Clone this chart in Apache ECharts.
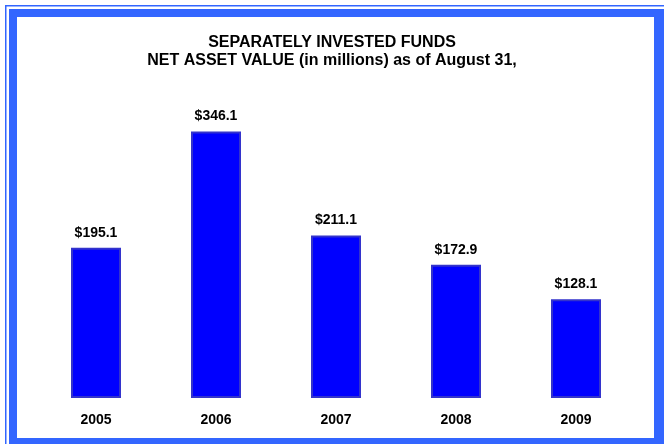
<!DOCTYPE html>
<html>
<head>
<meta charset="utf-8">
<script src="https://cdn.jsdelivr.net/npm/echarts@6/dist/echarts.min.js"></script>
<style>
html,body{margin:0;padding:0;background:#fff;}
#c{width:664px;height:444px;}
</style>
</head>
<body>
<div id="c"></div>
<script>
const categories = ['2005', '2006', '2007', '2008', '2009'];
const values = [195.1, 346.1, 211.1, 172.9, 128.1];
const titleLines = ['SEPARATELY INVESTED FUNDS', 'NET ASSET VALUE (in millions) as of August 31,'];

const frame = '#3366ff';
const chart = echarts.init(document.getElementById('c'), null, {renderer: 'canvas'});
chart.setOption({
  backgroundColor: '#ffffff',
  animation: false,
  title: {
    text: titleLines.join('\n'),
    left: 'center',
    top: 29,
    textStyle: {
      fontFamily: 'Liberation Sans, Arial, sans-serif',
      fontWeight: 'bold',
      fontSize: 16,
      lineHeight: 18,
      color: '#000'
    }
  },
  grid: {left: 36, right: 28, top: 90, bottom: 46},
  xAxis: {
    type: 'category',
    data: categories,
    axisLine: {show: false},
    axisTick: {show: false},
    axisLabel: {
      margin: 15,
      fontFamily: 'Liberation Sans, Arial, sans-serif',
      fontWeight: 'bold',
      fontSize: 14,
      color: '#000'
    }
  },
  yAxis: {
    type: 'value',
    min: 0,
    max: 400,
    show: false,
    splitLine: {show: false}
  },
  series: [{
    type: 'bar',
    data: values,
    barWidth: 50,
    itemStyle: {color: '#0000ff', borderColor: '#3333cc', borderWidth: 2},
    label: {
      show: true,
      position: 'top',
      distance: 8,
      formatter: p => '$' + p.value.toFixed(1),
      fontFamily: 'Liberation Sans, Arial, sans-serif',
      fontWeight: 'bold',
      fontSize: 14,
      color: '#000'
    }
  }],
  graphic: [
    {type: 'rect', shape: {x: 5, y: 5, width: 659, height: 1.5}, style: {fill: frame}},
    {type: 'rect', shape: {x: 5, y: 5, width: 1.5, height: 439}, style: {fill: frame}},
    {type: 'rect', shape: {x: 9, y: 9, width: 655, height: 8}, style: {fill: frame}},
    {type: 'rect', shape: {x: 9, y: 9, width: 8, height: 435}, style: {fill: frame}},
    {type: 'rect', shape: {x: 654, y: 9, width: 10, height: 435}, style: {fill: frame}},
    {type: 'rect', shape: {x: 9, y: 438, width: 655, height: 6}, style: {fill: frame}}
  ]
});
</script>
</body>
</html>
